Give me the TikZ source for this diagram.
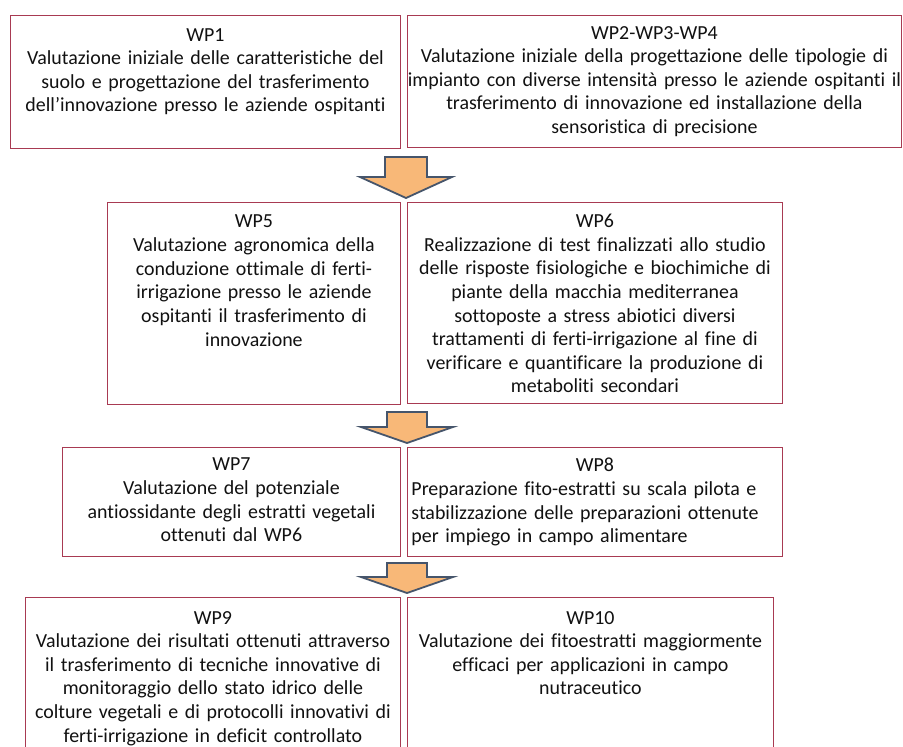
\documentclass[tikz,border=0pt]{standalone}
\usepackage{fontspec}
\usepackage{xcolor}
\usepackage{tikz}
\usetikzlibrary{positioning}
\setmainfont{Carlito}[RawFeature={-liga}]
\definecolor{wpred}{HTML}{A83A52}
\definecolor{wporange}{HTML}{F8B878}
\definecolor{wpslate}{HTML}{46556B}
\definecolor{wpink}{HTML}{111111}

\begin{document}
\begin{tikzpicture}[x=1bp, y=-1bp,
    wpbox/.style={draw=wpred, line width=0.9bp, fill=white, anchor=north west, inner sep=0pt},
    wptext/.style={align=center, text=wpink, inner sep=0pt, font=\fontsize{20}{23.7}\selectfont},
    bigarrow/.style={draw=wpslate, line width=1.8bp, fill=wporange, line join=miter}]
        \useasboundingbox[fill=white] (0,0) rectangle (903,747);

        % Boxes
        \node[wpbox, minimum width=390bp, minimum height=133bp] (wp1) at (10,15) {};
        \node[wpbox, minimum width=494bp, minimum height=132bp] (wp234) at (407,15) {};
        \node[wpbox, minimum width=293bp, minimum height=202bp] (wp5) at (107,202) {};
        \node[wpbox, minimum width=375bp, minimum height=201bp] (wp6) at (407,202) {};
        \node[wpbox, minimum width=338bp, minimum height=109bp] (wp7) at (62,447) {};
        \node[wpbox, minimum width=375bp, minimum height=109bp] (wp8) at (407,447) {};
        \node[wpbox, minimum width=375bp, minimum height=180bp] (wp9) at (25,597) {};
        \node[wpbox, minimum width=366bp, minimum height=180bp] (wp10) at (407,597) {};

        % Texts
        \node[wptext, text width=385bp, below=13bp of wp1.north] (wp1txt) {WP1\\
            Valutazione iniziale delle caratteristiche del\\
            suolo e progettazione del trasferimento\\
            dell’innovazione presso le aziende ospitanti};
        \node[wptext, text width=510bp, below=11bp of wp234.north] (wp234txt) {WP2-WP3-WP4\\
            Valutazione iniziale della progettazione delle tipologie di\\
            impianto con diverse intensità presso le aziende ospitanti il\\
            trasferimento di innovazione ed installazione della\\
            sensoristica di precisione};
        \node[wptext, text width=290bp, below=13bp of wp5.north] (wp5txt) {WP5\\
            Valutazione agronomica della\\
            conduzione ottimale di ferti-\\
            irrigazione presso le aziende\\
            ospitanti il trasferimento di\\
            innovazione};
        \node[wptext, text width=372bp, below=12bp of wp6.north] (wp6txt) {WP6\\
            Realizzazione di test finalizzati allo studio\\
            delle risposte fisiologiche e biochimiche di\\
            piante della macchia mediterranea\\
            sottoposte a stress abiotici diversi\\
            trattamenti di ferti-irrigazione al fine di\\
            verificare e quantificare la produzione di\\
            metaboliti secondari};
        \node[wptext, text width=335bp, below=11bp of wp7.north] (wp7txt) {WP7\\
            Valutazione del potenziale\\
            antiossidante degli estratti vegetali\\
            ottenuti dal WP6};
        \node[wptext, align=left, text width=367bp, below=11bp of wp8.north] (wp8txt) {\makebox[\linewidth]{WP8}\\
            Preparazione fito-estratti su scala pilota e\\
            stabilizzazione delle preparazioni ottenute\\
            per impiego in campo alimentare};
        \node[wptext, text width=372bp, below=14bp of wp9.north] (wp9txt) {WP9\\
            Valutazione dei risultati ottenuti attraverso\\
            il trasferimento di tecniche innovative di\\
            monitoraggio dello stato idrico delle\\
            colture vegetali e di protocolli innovativi di\\
            ferti-irrigazione in deficit controllato};
        \node[wptext, text width=363bp, below=14bp of wp10.north] (wp10txt) {WP10\\
            Valutazione dei fitoestratti maggiormente\\
            efficaci per applicazioni in campo\\
            nutraceutico};

        % Arrows
        \draw[bigarrow, shift={(406,157)}] (-21,0) -- (21,0) -- (21,20) -- (46,20) -- (0,41) -- (-46,20) -- (-21,20) -- cycle;
        \draw[bigarrow, shift={(407,412)}] (-20,0) -- (20,0) -- (20,15) -- (46,15) -- (0,31) -- (-46,15) -- (-20,15) -- cycle;
        \draw[bigarrow, shift={(407,563)}] (-20,0) -- (20,0) -- (20,14) -- (46,14) -- (0,30) -- (-46,14) -- (-20,14) -- cycle;
    \end{tikzpicture}
\end{document}
